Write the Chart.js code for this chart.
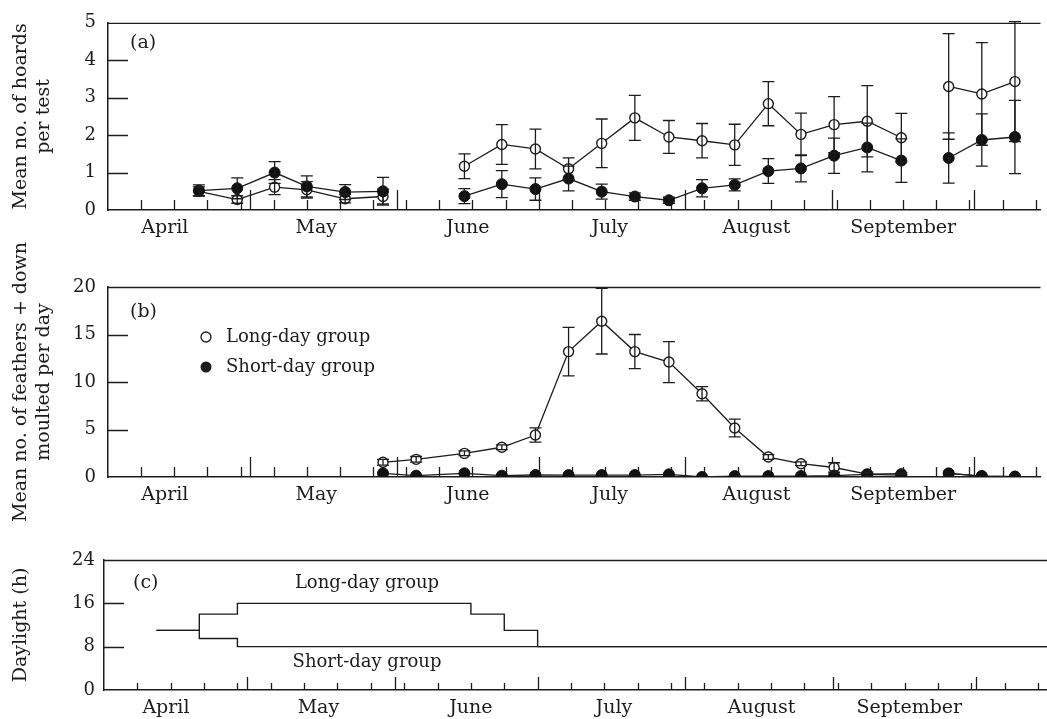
<!DOCTYPE html>
<html><head><meta charset="utf-8">
<script src="https://cdn.jsdelivr.net/npm/chart.js@4"></script>
<style>
html,body{margin:0;padding:0;background:#fff;}
#wrap{position:relative;width:1047px;height:719px;overflow:hidden;background:#fff;}
canvas{position:absolute;left:0;top:0;}
</style></head><body>
<div id="wrap">
<canvas id="ca" width="1047" height="719"></canvas>
<canvas id="cb" width="1047" height="719"></canvas>
<canvas id="cc" width="1047" height="719"></canvas>
</div>
<script>
// ---------- tick labels / axis marks (days since 1 April) ----------
const monthNames = ['April', 'May', 'June', 'July', 'August', 'September'];
const monthLabelDays = [12, 44, 76, 106, 137, 168];
const monthLabelDaysC = [13, 45, 77, 107, 138, 169];
const monthStartDays = [30, 61, 91, 122, 153, 183];
const weekDays = [7, 14, 21, 28, 35, 42, 49, 56, 63, 70, 77, 84, 91, 98, 105, 112, 119, 126, 133, 140, 147, 154, 161, 168, 175, 182, 189, 196];

// ---------- (a) hoarding ----------
const hoardDays = [19.2, 27.3, 35.2, 42.0, 50.1, 58.1, 75.3, 83.2, 90.3, 97.3, 104.3, 111.3, 118.5, 125.5, 132.4, 139.5, 146.4, 153.4, 160.4, 167.6, 177.6, 184.6, 191.6];
const hoardBreaks = [6, 20];
const hoardLong = [0.50, 0.28, 0.61, 0.54, 0.30, 0.36, 1.17, 1.75, 1.63, 1.10, 1.78, 2.46, 1.95, 1.85, 1.74, 2.84, 2.02, 2.28, 2.37, 1.93, 3.30, 3.10, 3.43];
const hoardLongErr = [0.12, 0.10, 0.20, 0.22, 0.11, 0.20, 0.33, 0.53, 0.53, 0.29, 0.65, 0.60, 0.44, 0.46, 0.55, 0.59, 0.57, 0.75, 0.95, 0.65, 1.41, 1.37, 1.60];
const hoardShort = [0.52, 0.58, 1.00, 0.63, 0.48, 0.50, 0.37, 0.69, 0.56, 0.84, 0.49, 0.36, 0.26, 0.58, 0.67, 1.04, 1.11, 1.45, 1.67, 1.32, 1.39, 1.87, 1.95];
const hoardShortErr = [0.15, 0.28, 0.29, 0.28, 0.20, 0.37, 0.20, 0.36, 0.30, 0.33, 0.20, 0.10, 0.08, 0.23, 0.16, 0.33, 0.36, 0.47, 0.65, 0.58, 0.67, 0.70, 0.98];

// ---------- (b) moult ----------
const moultDays = [58.1, 65.1, 75.3, 83.2, 90.3, 97.3, 104.3, 111.3, 118.5, 125.5, 132.4, 139.5, 146.4, 153.4, 160.4, 167.6, 177.6, 184.6, 191.6];
const moultBreaks = [16];
const moultLong = [1.55, 1.86, 2.49, 3.13, 4.42, 13.2, 16.4, 13.2, 12.1, 8.77, 5.16, 2.10, 1.40, 1.00, 0.30, 0.35, 0.38, 0.10, 0.05];
const moultLongErr = [0.30, 0.30, 0.25, 0.25, 0.75, 2.56, 3.45, 1.80, 2.16, 0.75, 0.93, 0.25, 0.20, 0.50, 0.20, 0.10, 0, 0, 0];
const moultShort = [0.39, 0.14, 0.39, 0.14, 0.21, 0.20, 0.20, 0.20, 0.28, 0.00, 0.10, 0.10, 0.10, 0.15, 0.28, 0.20, 0.38, 0.10, 0.05];
const moultShortErr = [0, 0, 0, 0, 0, 0, 0, 0, 0, 0, 0, 0, 0, 0, 0, 0, 0, 0, 0];

// ---------- (c) daylight regime ----------
const lightLongDays = [11, 20, 28, 77, 84, 91, 197.9];
const lightLongHours = [11, 14, 16, 14, 11, 8, 8];
const lightShortDays = [11, 20, 28, 197.9];
const lightShortHours = [11, 9.5, 8, 8];

// ---------- helpers ----------
const FONT = 'DejaVu Serif';
const INK = '#1c1c1c';

function pts(days, vals, breaks) {
  const out = [];
  days.forEach((d, i) => {
    if (breaks.includes(i)) out.push({ x: (days[i - 1] + d) / 2, y: null });
    out.push({ x: d, y: vals[i] });
  });
  return out;
}
function errs(days, e, breaks) {
  const out = [];
  days.forEach((d, i) => {
    if (breaks.includes(i)) out.push(null);
    out.push(e[i]);
  });
  return out;
}
function stepPts(days, vals) { return days.map((d, i) => ({ x: d, y: vals[i] })); }

const framePlugin = {
  id: 'frame',
  beforeDatasetsDraw(chart, args, o) {
    const { ctx, chartArea: { left, right, top, bottom }, scales: { x, y } } = chart;
    ctx.save();
    ctx.strokeStyle = INK; ctx.lineWidth = 1.3;
    ctx.beginPath();
    ctx.moveTo(left, top + 0.5); ctx.lineTo(right, top + 0.5);
    weekDays.forEach(d => { const px = Math.round(x.getPixelForValue(d)) + 0.5; if (px <= right) { ctx.moveTo(px, bottom); ctx.lineTo(px, bottom - o.weekLen); } });
    monthStartDays.forEach(d => { const px = Math.round(x.getPixelForValue(d)) + 0.5; if (px <= right) { ctx.moveTo(px, bottom); ctx.lineTo(px, bottom - o.monthLen); } });
    y.ticks.forEach(t => {
      if (t.value > y.min && t.value < y.max) {
        const py = Math.round(y.getPixelForValue(t.value)) + 0.5;
        ctx.moveTo(left, py); ctx.lineTo(left + 20, py);
      }
    });
    ctx.stroke();
    ctx.restore();
  }
};

const errPlugin = {
  id: 'errbars',
  afterDatasetsDraw(chart) {
    const { ctx, scales: { x, y } } = chart;
    ctx.save();
    ctx.strokeStyle = INK; ctx.lineWidth = 1.3;
    chart.data.datasets.forEach(ds => {
      if (!ds.errors) return;
      ds.data.forEach((p, j) => {
        const e = ds.errors[j];
        if (p.y === null || !e) return;
        const px = x.getPixelForValue(p.x);
        const y1 = y.getPixelForValue(p.y + e);
        const y2 = y.getPixelForValue(Math.max(p.y - e, y.min));
        ctx.beginPath();
        ctx.moveTo(px, y1); ctx.lineTo(px, y2);
        ctx.moveTo(px - 6, y1); ctx.lineTo(px + 6, y1);
        ctx.moveTo(px - 6, y2); ctx.lineTo(px + 6, y2);
        ctx.stroke();
      });
    });
    ctx.restore();
  }
};

const textPlugin = {
  id: 'texts',
  afterDraw(chart, args, o) {
    const ctx = chart.ctx;
    ctx.save();
    ctx.fillStyle = INK; ctx.strokeStyle = INK;
    (o.items || []).forEach(t => {
      if (t.marker) {
        ctx.beginPath();
        ctx.arc(t.x, t.y, t.r, 0, Math.PI * 2);
        if (t.marker === 'open') { ctx.lineWidth = 1.3; ctx.fillStyle = '#fff'; ctx.fill(); ctx.stroke(); ctx.fillStyle = INK; }
        else { ctx.fill(); }
        return;
      }
      ctx.font = (t.size || 19) + 'px "' + FONT + '"';
      ctx.textAlign = t.align || 'left';
      ctx.textBaseline = 'middle';
      ctx.fillText(t.text, t.x, t.y);
    });
    ctx.restore();
  }
};

function xAxis(max, labelDays, height) {
  return {
    type: 'linear', min: 0, max: max,
    afterBuildTicks: s => { s.ticks = labelDays.map(v => ({ value: v })); },
    afterFit: s => { s.height = height; },
    ticks: { callback: (v, i) => monthNames[i], autoSkip: false, maxRotation: 0, minRotation: 0, padding: 7, color: INK, font: { family: FONT, size: 19 } },
    grid: { display: false, drawTicks: false },
    border: { display: true, color: INK, width: 1.5 }
  };
}
function yAxis(min, max, step, title, width, pad) {
  return {
    min: min, max: max,
    afterFit: s => { s.width = width; },
    ticks: { stepSize: step, padding: pad, color: INK, font: { family: FONT, size: 18 } },
    grid: { display: false, drawTicks: false },
    border: { display: true, color: INK, width: 1.5 },
    title: { display: true, text: title, color: INK, font: { family: FONT, size: 19, lineHeight: 1.2 }, padding: { top: 10, bottom: 0 } }
  };
}
function seriesSets(days, longV, longE, shortV, shortE, breaks) {
  return [
    { label: 'Short-day group', data: pts(days, shortV, breaks), errors: errs(days, shortE, breaks),
      borderColor: INK, borderWidth: 1.3, pointRadius: 5.5, pointBackgroundColor: '#111', pointBorderColor: '#111', pointBorderWidth: 1, spanGaps: false, tension: 0 },
    { label: 'Long-day group', data: pts(days, longV, breaks), errors: errs(days, longE, breaks),
      borderColor: INK, borderWidth: 1.3, pointRadius: 5, pointBackgroundColor: '#fff', pointBorderColor: INK, pointBorderWidth: 1.4, spanGaps: false, tension: 0 }
  ];
}
const common = { responsive: false, animation: false, devicePixelRatio: 1, events: [] };

Chart.register(framePlugin, errPlugin, textPlugin);

// Panel (a)
new Chart(document.getElementById('ca'), {
  type: 'line',
  data: { datasets: seriesSets(hoardDays, hoardLong, hoardLongErr, hoardShort, hoardShortErr, hoardBreaks) },
  options: Object.assign({}, common, {
    layout: { padding: { top: 18, bottom: 469, left: 0, right: 0 } },
    plugins: { legend: { display: false }, tooltip: { enabled: false },
      frame: { weekLen: 10, monthLen: 20 },
      texts: { items: [{ text: '(a)', x: 130, y: 43 }] } },
    scales: { x: xAxis(197, monthLabelDays, 40), y: yAxis(0, 5, 1, ['Mean no. of hoards', 'per test'], 108, 12) }
  })
});

// Panel (b)
new Chart(document.getElementById('cb'), {
  type: 'line',
  data: { datasets: seriesSets(moultDays, moultLong, moultLongErr, moultShort, moultShortErr, moultBreaks) },
  options: Object.assign({}, common, {
    layout: { padding: { top: 287, bottom: 202, left: 0, right: 0 } },
    plugins: { legend: { display: false }, tooltip: { enabled: false },
      frame: { weekLen: 10, monthLen: 20 },
      texts: { items: [
        { text: '(b)', x: 130, y: 312 },
        { marker: 'open', x: 206, y: 337, r: 5 },
        { text: 'Long-day group', x: 226, y: 337, size: 18 },
        { marker: 'filled', x: 206, y: 367, r: 5.5 },
        { text: 'Short-day group', x: 226, y: 367, size: 18 }
      ] } },
    scales: { x: xAxis(197, monthLabelDays, 40), y: yAxis(0, 20, 5, ['Mean no. of feathers + down', 'moulted per day'], 108, 12) }
  })
});

// Panel (c)
new Chart(document.getElementById('cc'), {
  type: 'line',
  data: { datasets: [
    { label: 'Long-day group', data: stepPts(lightLongDays, lightLongHours), stepped: 'before', borderColor: INK, borderWidth: 1.4, pointRadius: 0 },
    { label: 'Short-day group', data: stepPts(lightShortDays, lightShortHours), stepped: 'before', borderColor: INK, borderWidth: 1.4, pointRadius: 0 }
  ] },
  options: Object.assign({}, common, {
    layout: { padding: { top: 560, bottom: 0, left: 0, right: 0 } },
    plugins: { legend: { display: false }, tooltip: { enabled: false },
      frame: { weekLen: 7, monthLen: 13 },
      texts: { items: [
        { text: '(c)', x: 133, y: 583 },
        { text: 'Long-day group', x: 367, y: 583, align: 'center', size: 18 },
        { text: 'Short-day group', x: 367, y: 662, align: 'center', size: 18 }
      ] } },
    scales: { x: xAxis(197.9, monthLabelDaysC, 29), y: yAxis(0, 24, 8, 'Daylight (h)', 104, 9) }
  })
});
</script>
</body></html>
